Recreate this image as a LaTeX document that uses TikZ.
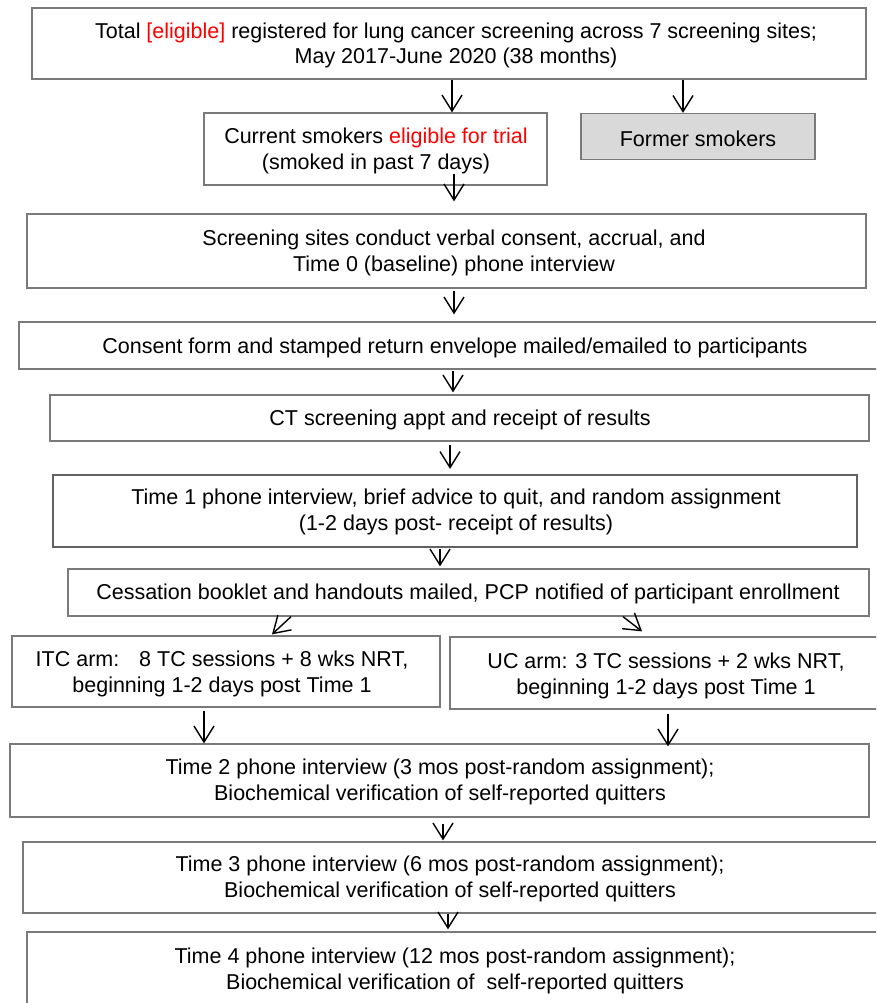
\documentclass[tikz,border=0pt]{standalone}
\usepackage{fontspec}
\setmainfont{Liberation Sans}
\usetikzlibrary{arrows.meta,calc}
\definecolor{boxgray}{HTML}{7A7A7A}
\definecolor{fillgray}{HTML}{D9D9D9}
\definecolor{eligred}{HTML}{FF0000}
\tikzset{
  box/.style={draw=boxgray,line width=1.3pt,rectangle,align=center,inner sep=0pt,
    font=\fontsize{21.5}{25.5}\selectfont},
  txt/.style={box,draw=none,yshift=-2pt},
  thickbox/.style={box,draw=black!62,line width=2.2pt},
  arr/.style={line width=1.4pt,-{Straight Barb[length=16pt,width=20pt,line width=1.4pt]}}
}
\begin{document}
\begin{tikzpicture}[x=1pt,y=-1pt]
\useasboundingbox (0,0) rectangle (876,1003);
\clip (0,0) rectangle (876,1003);
\fill[white] (0,0) rectangle (876,1003);
% boxes
\node[box,minimum width=834pt,minimum height=71pt] (top) at (449,43.5) {};
\node[box,minimum width=343pt,minimum height=72pt] (cur) at (375.5,149) {};
\node[box,fill=fillgray,minimum width=234pt,minimum height=46pt] (former) at (698,136.5) {};
\node[box,minimum width=839pt,minimum height=74pt] (scr) at (446.5,251) {};
\node[box,minimum width=870pt,minimum height=47pt] (cons) at (454,345.5) {};
\node[box,minimum width=819pt,minimum height=46pt] (ct) at (459.5,418) {};
\node[thickbox,minimum width=804pt,minimum height=72pt] (t1) at (455,511) {};
\node[box,minimum width=801pt,minimum height=47pt] (ces) at (468.5,592.5) {};
\node[box,minimum width=428pt,minimum height=71pt] (itc) at (226,671.5) {};
\node[box,minimum width=436pt,minimum height=72pt] (uc) at (668,673) {};
\node[box,minimum width=859pt,minimum height=73pt] (t2) at (439.5,780.5) {};
\node[box,minimum width=870pt,minimum height=71pt] (t3) at (458,877.5) {};
\node[box,minimum width=870pt,minimum height=74pt] (t4) at (462,969) {};
% texts
\node[txt] (toptxt) at (456,43.5) {Total \textcolor{eligred}{[eligible]} registered for lung cancer screening across 7 screening sites;\\May 2017-June 2020 (38 months)};
\node[txt] (curtxt) at (376,149) {Current smokers \textcolor{eligred}{eligible for trial}\\(smoked in past 7 days)};
\node[txt] (formertxt) at (698,136.5) {Former smokers};
\node[txt] (scrtxt) at (454,251) {Screening sites conduct verbal consent, accrual, and\\Time 0 (baseline) phone interview};
\node[txt] (constxt) at (455,345.5) {Consent form and stamped return envelope mailed/emailed to participants};
\node[txt] (cttxt) at (460,418) {CT screening appt and receipt of results};
\node[txt] (t1txt) at (456,510) {Time 1 phone interview, brief advice to quit, and random assignment\\(1-2 days post- receipt of results)};
\node[txt] (cestxt) at (468,592) {Cessation booklet and handouts mailed, PCP notified of participant enrollment};
\node[txt] (itctxt) at (222,672) {ITC arm: \ \ 8 TC sessions + 8 wks NRT,\\beginning 1-2 days post Time 1};
\node[txt] (uctxt) at (666,674) {UC arm: 3 TC sessions + 2 wks NRT,\\beginning 1-2 days post Time 1};
\node[txt] (t2txt) at (440,780) {Time 2 phone interview (3 mos post-random assignment);\\Biochemical verification of self-reported quitters};
\node[txt] (t3txt) at (450,877) {Time 3 phone interview (6 mos post-random assignment);\\Biochemical verification of self-reported quitters};
\node[txt] (t4txt) at (455,969) {Time 4 phone interview (12 mos post-random assignment);\\Biochemical verification of~ self-reported quitters};
% arrow columns
\coordinate (c1) at (452,0);
\coordinate (c2) at (683,0);
\coordinate (c3) at (454,0);
\coordinate (c4) at (454,0);
\coordinate (c5) at (453,0);
\coordinate (c6) at (450,0);
\coordinate (c7) at (440,0);
\coordinate (c8) at (204,0);
\coordinate (c9) at (668,0);
\coordinate (c10) at (443,0);
\coordinate (c11) at (448,0);
% arrows
\draw[arr] (top.south -| c1) -- (cur.north -| c1);
\draw[arr] (top.south -| c2) -- (former.north -| c2);
\draw[arr] ([yshift=12pt]cur.south -| c3) -- ([yshift=12pt]scr.north -| c3);
\draw[arr] ([yshift=-2pt]scr.south -| c4) -- ([yshift=7pt]cons.north -| c4);
\draw[arr] ([yshift=-1pt]cons.south -| c5) -- ([yshift=2pt]ct.north -| c5);
\draw[arr] ([yshift=-3pt]ct.south -| c6) -- ([yshift=5pt]t1.north -| c6);
\draw[arr] ([yshift=-1pt]t1.south -| c7) -- ([yshift=2pt]ces.north -| c7);
\draw[arr] ([xshift=-177.5pt]ces.south) -- ([xshift=46pt,yshift=1pt]itc.north);
\draw[arr] ([xshift=154.5pt]ces.south) -- ([xshift=-26pt,yshift=5pt]uc.north);
\draw[arr] ([yshift=-3pt]itc.south -| c8) -- (t2.north -| c8);
\draw[arr] ([yshift=-4pt]uc.south -| c9) -- ([yshift=-3pt]t2.north -| c9);
\draw[arr] ([yshift=-6pt]t2.south -| c10) -- ([yshift=1pt]t3.north -| c10);
\draw[arr] (t3.south -| c11) -- ([yshift=2pt]t4.north -| c11);
\end{tikzpicture}
\end{document}
